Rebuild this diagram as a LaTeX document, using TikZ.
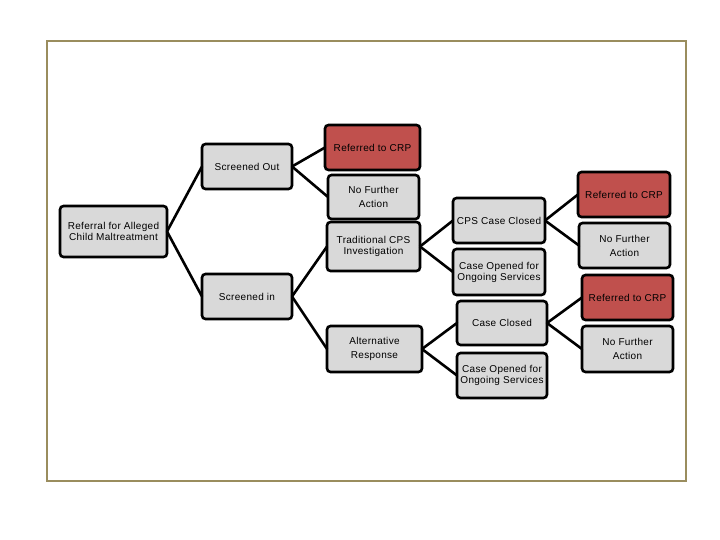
\documentclass[tikz,border=0pt]{standalone}
\usepackage{fontspec}
\setmainfont[LetterSpace=3]{Liberation Sans}
\definecolor{boxgray}{HTML}{D9D9D9}
\definecolor{crpred}{HTML}{C0504D}
\definecolor{framegold}{HTML}{9A8D5E}

\begin{document}
\begin{tikzpicture}[
    x=1pt, y=-1pt,
    every node/.style={font=\fontsize{10}{11}\selectfont},
    box/.style={draw=black, line width=2.6pt, rounded corners=3.5pt, fill=boxgray,
        align=center, inner sep=0pt, outer sep=0pt,
        minimum width=91, minimum height=45},
    crpbox/.style={box, fill=crpred},
    link/.style={line width=2.6pt, line cap=round},
]

% === Page and frame ===
\useasboundingbox (0,0) rectangle (720,540);
\draw[framegold, line width=2.8pt] (47,41) rectangle (686,481);

% === Level 0 ===
\node[box, minimum width=107, minimum height=51] (referral) at (113.5,231.5)
    {Referral for Alleged\\Child Maltreatment};

% === Level 1 ===
\node[box, minimum width=90] (screenout) at (247,166.5) {Screened Out};
\node[box, minimum width=90] (screenin)  at (247,296.5) {Screened in};

% === Level 2 ===
\node[crpbox, minimum width=95] (crpA) at (372.5,147.5) {Referred to CRP};
\node[box, minimum height=44] (nfaA) at (373.5,197) {No Further\\[3pt]Action};
\node[box, minimum width=93, minimum height=49] (cps) at (373.5,246.5)
    {Traditional CPS\\Investigation};
\node[box, minimum width=95, minimum height=46] (alt) at (374.5,349)
    {Alternative\\[3pt]Response};

% === Level 3 ===
\node[box, minimum width=92] (cpsclosed) at (499,220.5) {CPS Case Closed};
\node[box, minimum width=92, minimum height=46] (cpsopen) at (499,272)
    {Case Opened for\\Ongoing Services};
\node[box, minimum width=90, minimum height=44] (altclosed) at (502,323) {Case Closed};
\node[box, minimum width=90] (altopen) at (502,375.5)
    {Case Opened for\\Ongoing Services};

% === Level 4 ===
\node[crpbox, minimum width=92] (crpB) at (624,194.5) {Referred to CRP};
\node[box] (nfaB) at (624.5,245.5) {No Further\\[3pt]Action};
\node[crpbox] (crpC) at (627.5,297.5) {Referred to CRP};
\node[box, minimum height=46] (nfaC) at (627.5,349) {No Further\\[3pt]Action};

% === Connectors ===
\draw[link] (referral.east) -- (screenout.west);
\draw[link] (referral.east) -- (screenin.west);
\draw[link] (screenout.east) -- (crpA.west);
\draw[link] (screenout.east) -- (nfaA.west);
\draw[link] (screenin.east) -- (cps.west);
\draw[link] (screenin.east) -- (alt.west);
\draw[link] (cps.east) -- (cpsclosed.west);
\draw[link] (cps.east) -- (cpsopen.west);
\draw[link] (alt.east) -- (altclosed.west);
\draw[link] (alt.east) -- (altopen.west);
\draw[link] (cpsclosed.east) -- (crpB.west);
\draw[link] (cpsclosed.east) -- (nfaB.west);
\draw[link] (altclosed.east) -- (crpC.west);
\draw[link] (altclosed.east) -- (nfaC.west);

\end{tikzpicture}
\end{document}
